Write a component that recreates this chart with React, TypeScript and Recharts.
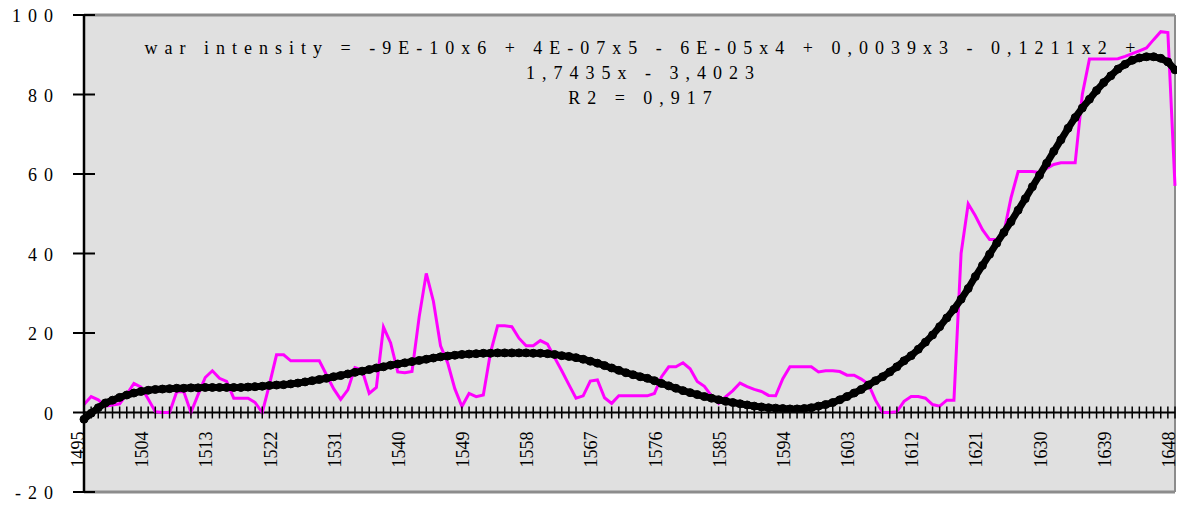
import React from 'react';
import { LineChart, Line, XAxis, YAxis, CartesianGrid, ReferenceLine } from 'recharts';

// one point per year, 1495 .. 1648
const years = Array.from({ length: 154 }, (_, i) => 1495 + i);

// war intensity
const warIntensity = [
  2, 4, 3.2, 1.6, 1.9, 2.2, 4.6, 7.3, 6.4, 3.4, // 1495
  0.2, 0, 0, 5.2, 5.2, 0, 4.5, 8.8, 10.5, 8.6, // 1505
  7.8, 3.6, 3.6, 3.6, 2.5, 0, 7, 14.5, 14.5, 13, // 1515
  13, 13, 13, 13, 9.5, 6, 3.3, 5.7, 11.3, 10.7, // 1525
  4.8, 6.3, 21.5, 17.5, 10.2, 10, 10.3, 24, 35, 28, // 1535
  16.8, 12.5, 6, 1.5, 4.8, 4, 4.4, 15, 21.8, 21.8, // 1545
  21.6, 18.7, 16.8, 16.8, 18.1, 17.2, 13.8, 10.5, 7, 3.6, // 1555
  4.2, 7.9, 8.2, 3.7, 2.3, 4.2, 4.2, 4.2, 4.2, 4.2, // 1565
  4.8, 9, 11.5, 11.5, 12.5, 11, 7.8, 6.6, 4.2, 2.3, // 1575
  4, 5.5, 7.4, 6.5, 5.8, 5.3, 4.3, 4.2, 8.5, 11.5, // 1585
  11.5, 11.5, 11.5, 10.2, 10.5, 10.5, 10.3, 9.4, 9.4, 8.4, // 1595
  7.2, 3.1, 0, 0, 0.2, 2.8, 4, 4, 3.6, 2, // 1605
  1.6, 3.1, 3.1, 40, 52.5, 49.5, 46, 43.5, 43.5, 45.3, // 1615
  54, 60.6, 60.6, 60.6, 60.4, 61.4, 62.4, 62.8, 62.8, 62.8, // 1625
  80, 88.9, 88.9, 88.9, 88.9, 89, 89.6, 90.3, 91, 91.7, // 1635
  93.8, 95.8, 95.6, 57, // 1645
];

// polynomial trend (black)
const trendLine = [
  -1.7, -0.2, 1.2, 2.4, 3.1, 3.8, 4.4, 4.9, 5.3, 5.6, // 1495
  5.8, 5.9, 6.0, 6.1, 6.1, 6.2, 6.2, 6.3, 6.3, 6.3, // 1505
  6.3, 6.3, 6.3, 6.4, 6.5, 6.6, 6.8, 6.9, 7.0, 7.2, // 1515
  7.4, 7.7, 8.0, 8.3, 8.6, 9.0, 9.3, 9.7, 10.1, 10.4, // 1525
  10.8, 11.2, 11.5, 11.9, 12.2, 12.5, 12.8, 13.1, 13.4, 13.7, // 1535
  14.0, 14.2, 14.4, 14.6, 14.7, 14.8, 14.9, 14.9, 15, 15, // 1545
  15, 15, 15, 14.9, 14.9, 14.8, 14.6, 14.3, 14.1, 13.8, // 1555
  13.4, 12.9, 12.4, 11.8, 11.2, 10.6, 10.0, 9.5, 9.0, 8.6, // 1565
  8.0, 7.3, 6.7, 6.1, 5.5, 5.0, 4.5, 4.0, 3.6, 3.2, // 1575
  2.8, 2.5, 2.2, 1.9, 1.6, 1.4, 1.2, 1.1, 1.0, 0.9, // 1585
  0.9, 1.0, 1.2, 1.6, 2.0, 2.5, 3.2, 4.0, 4.9, 5.8, // 1595
  6.9, 8.0, 9.0, 10.2, 11.5, 13.0, 14.3, 15.9, 17.7, 19.5, // 1605
  21.6, 23.8, 26.0, 28.5, 31.2, 34.2, 37.0, 39.8, 42.6, 45.3, // 1615
  48.0, 50.9, 53.8, 56.8, 59.7, 62.7, 65.7, 68.6, 71.5, 74.2, // 1625
  76.6, 78.8, 81, 83, 84.7, 86.4, 87.6, 88.6, 89.2, 89.5, // 1635
  89.5, 89.1, 88.2, 86.2, // 1645
];

const yTicks = [-20, 0, 20, 40, 60, 80, 100];

const equationLines = [
  'war intensity = -9E-10x6 + 4E-07x5 - 6E-05x4 + 0,0039x3 - 0,1211x2 +',
  '1,7435x - 3,4023',
  'R2 = 0,917',
];

const W = 1177;
const H = 506;
const MARGIN = { top: 15, right: 2, bottom: 0, left: 0 };
const Y_AXIS_W = 84;
const X_AXIS_H = 14;
const Y_MIN = -20;
const Y_MAX = 100;
const PLOT_H = H - MARGIN.top - MARGIN.bottom - X_AXIS_H;
// the category axis crosses at y = 0, not at the bottom
const ZERO_Y = MARGIN.top + (PLOT_H * Y_MAX) / (Y_MAX - Y_MIN);
const SERIF = '"Liberation Serif", "Times New Roman", serif';

const data = years.map((year, i) => ({ year, war: warIntensity[i], trend: trendLine[i] }));

function YTick({ x, y, payload }: any) {
  return (
    <g>
      <line x1={x - 11} x2={x + 11} y1={y} y2={y} stroke="#000" strokeWidth={2} />
      <text x={x - 24} y={y} dy="0.4em" textAnchor="end" fontFamily={SERIF} fontSize={18}
        letterSpacing={7} fill="#000">
        {payload.value}
      </text>
    </g>
  );
}

function XTick({ x, payload }: any) {
  const showLabel = (payload.value - years[0]) % 9 === 0;
  const ly = ZERO_Y + 19;
  return (
    <g>
      <line x1={x} x2={x} y1={ZERO_Y - 6} y2={ZERO_Y + 6} stroke="#000" strokeWidth={1.5} />
      {showLabel && (
        <text x={x} y={ly} transform={`rotate(-90 ${x} ${ly})`} textAnchor="end"
          fontFamily={SERIF} fontSize={18} fill="#000">
          {payload.value}
        </text>
      )}
    </g>
  );
}

export default function App() {
  return (
    <div style={{ position: 'absolute', left: 0, top: 0, width: W, height: H, background: '#fff' }}>
      <LineChart width={W} height={H} data={data} margin={MARGIN}>
        <CartesianGrid fill="#e0e0e0" horizontal={false} vertical={false} />
        <ReferenceLine y={Y_MAX} stroke="#8c8c8c" strokeWidth={3} ifOverflow="visible" />
        <ReferenceLine y={Y_MIN} stroke="#8c8c8c" strokeWidth={3} ifOverflow="visible" />
        <ReferenceLine x={years[years.length - 1]} stroke="#8c8c8c" strokeWidth={2} ifOverflow="visible" />
        <ReferenceLine y={0} stroke="#000" strokeWidth={2} />
        <XAxis
          type="number"
          dataKey="year"
          domain={[years[0], years[years.length - 1]]}
          ticks={years}
          interval={0}
          height={X_AXIS_H}
          axisLine={false}
          tickLine={false}
          tickSize={0}
          tickMargin={0}
          tick={<XTick />}
        />
        <YAxis
          domain={[Y_MIN, Y_MAX]}
          ticks={yTicks}
          width={Y_AXIS_W}
          axisLine={{ stroke: '#000', strokeWidth: 2.5 }}
          tickLine={false}
          tickSize={0}
          tickMargin={0}
          tick={<YTick />}
        />
        <Line
          type="linear"
          dataKey="war"
          stroke="#ff00ff"
          strokeWidth={3}
          dot={false}
          isAnimationActive={false}
        />
        <Line
          type="linear"
          dataKey="trend"
          stroke="#000"
          strokeWidth={7}
          dot={{ r: 4, fill: '#000', stroke: '#000', strokeWidth: 1 }}
          isAnimationActive={false}
        />
      </LineChart>
      <div
        style={{
          position: 'absolute',
          left: 643.5 - 600,
          top: 36,
          width: 1200,
          textAlign: 'center',
          fontFamily: SERIF,
          fontSize: 18,
          lineHeight: '25px',
          letterSpacing: 7,
          whiteSpace: 'pre',
          color: '#000',
          pointerEvents: 'none',
        }}
      >
        {equationLines.join('\n')}
      </div>
    </div>
  );
}
